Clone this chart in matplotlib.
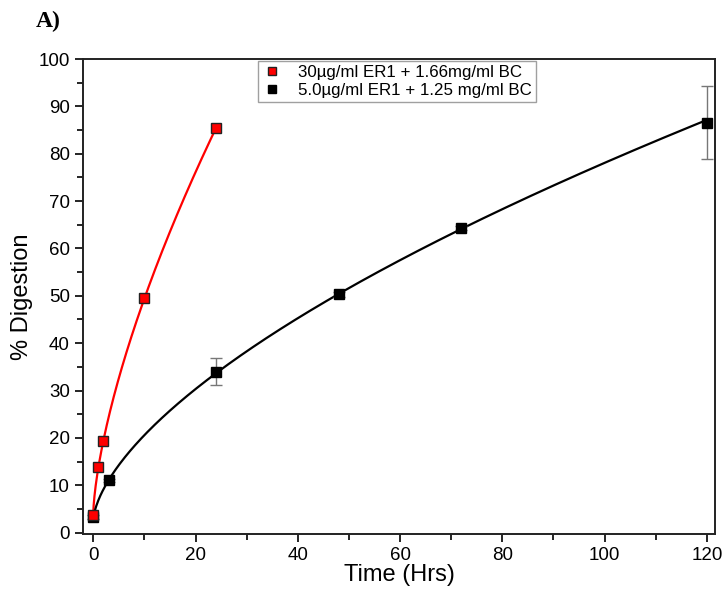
import numpy as np
import matplotlib
matplotlib.use("Agg")
import matplotlib.pyplot as plt
from matplotlib.ticker import MultipleLocator

# Data
red_x = [0, 1, 2, 10, 24]
red_y = [3.8, 13.8, 19.3, 49.5, 85.5]
red_err = [0.6, 0.5, 0.5, 0.4, 0.4]
black_x = [0, 3, 24, 48, 72, 120]
black_y = [3.3, 11.0, 34.0, 50.3, 64.3, 86.5]
black_err = [0.4, 0.3, 2.9, 0.5, 0.5, 7.7]
red_label = "30µg/ml ER1 + 1.66mg/ml BC"
black_label = "5.0µg/ml ER1 + 1.25 mg/ml BC"
x_ticks = [0, 20, 40, 60, 80, 100, 120]
y_ticks = [0, 10, 20, 30, 40, 50, 60, 70, 80, 90, 100]

plt.rcParams['font.family'] = ['Liberation Sans', 'DejaVu Sans']


def power_fit(xs, ys):
    """Fit y = c + a*x^b (x>0 points) by grid search on c."""
    xs = np.asarray(xs, float)
    ys = np.asarray(ys, float)
    m = xs > 0
    best = None
    for c in np.linspace(0, min(ys[m]) - 0.5, 200):
        b, la = np.polyfit(np.log(xs[m]), np.log(ys[m] - c), 1)
        pred = c + np.exp(la) * xs ** b
        err = np.sum((pred - ys) ** 2)
        if best is None or err < best[0]:
            best = (err, c, np.exp(la), b)
    _, c, a, b = best
    return lambda x: c + a * np.asarray(x, float) ** b


fig = plt.figure(figsize=(7.23, 5.92), dpi=100)
ax = fig.add_axes([0.1148, 0.098, 0.989 - 0.1148, 0.9003 - 0.098])

fr = power_fit(red_x, red_y)
fb = power_fit(black_x, black_y)
xr = np.linspace(0, max(red_x), 300)
xb = np.linspace(0, max(black_x), 600)
ax.plot(xr, fr(xr), color='#ff0000', lw=1.6, zorder=2)
ax.plot(xb, fb(xb), color='black', lw=1.6, zorder=2)

ax.errorbar(black_x, black_y, yerr=black_err, fmt='none', ecolor='#777777',
            elinewidth=1.0, capsize=4, capthick=1.0, zorder=3)
ax.errorbar(red_x, red_y, yerr=red_err, fmt='none', ecolor='#555555',
            elinewidth=0.8, capsize=3, capthick=0.8, zorder=3)
ax.plot(black_x, black_y, 's', color='black', ms=6.5, mec='black', zorder=4,
        label=black_label)
ax.plot(red_x, red_y, 's', color='#ff0000', ms=6.5, mec='#222222', mew=1.0,
        zorder=5, label=red_label)

ax.set_xlim(-2, 121.6)
ax.set_ylim(-0.3, 100)
ax.set_xticks(x_ticks)
ax.set_yticks(y_ticks)
ax.xaxis.set_minor_locator(MultipleLocator(10))
ax.yaxis.set_minor_locator(MultipleLocator(5))
ax.tick_params(which='major', direction='out', length=6, width=1.2,
               labelsize=13.5)
ax.tick_params(which='minor', direction='out', length=4, width=1.2)
for s in ax.spines.values():
    s.set_linewidth(1.4)
    s.set_color('#222222')

ax.set_xlabel("Time (Hrs)", fontsize=17, labelpad=0)
ax.set_ylabel("% Digestion", fontsize=17, labelpad=4)

h, l = ax.get_legend_handles_labels()
leg = ax.legend([h[1], h[0]], [l[1], l[0]], loc='upper left',
                bbox_to_anchor=(0.277, 0.996), fontsize=12.2, frameon=True,
                fancybox=False, edgecolor='#888888', handlelength=1.2,
                handletextpad=0.9, borderpad=0.25, labelspacing=0.15,
                markerscale=0.8, borderaxespad=0)
leg.get_frame().set_linewidth(1.0)

fig.text(0.05, 0.963, "A)", fontsize=17, fontweight='bold',
         family=['Liberation Serif', 'DejaVu Serif'], ha='left', va='center')

fig.savefig("out.png", dpi=100)
